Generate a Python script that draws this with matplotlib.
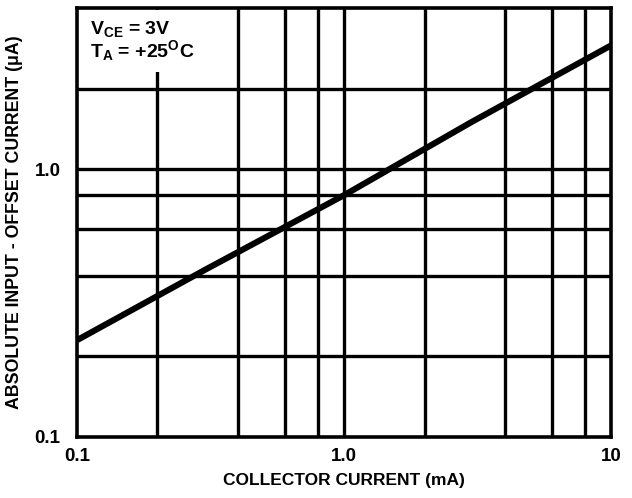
import matplotlib
matplotlib.use("Agg")
import matplotlib.pyplot as plt
import numpy as np

# curve
collector_current = [0.1, 0.3, 1.0, 3.0, 10.0]   # mA
offset_current = [0.23, 0.42, 0.80, 1.50, 2.90]  # uA

x_grid = [0.2, 0.4, 0.6, 0.8, 1.0, 2.0, 4.0, 6.0, 8.0]
y_grid = [0.2, 0.4, 0.6, 0.8, 1.0, 2.0]
x_ticks = [0.1, 1.0, 10]
x_ticklabels = ["0.1", "1.0", "10"]
y_ticks = [0.1, 1.0]
y_ticklabels = ["0.1", "1.0"]

plt.rcParams['font.family'] = ['Liberation Sans', 'DejaVu Sans']
plt.rcParams['font.weight'] = 'bold'
plt.rcParams['mathtext.fontset'] = 'custom'
plt.rcParams['mathtext.rm'] = 'Liberation Sans:bold'
plt.rcParams['mathtext.it'] = 'Liberation Sans:bold'
plt.rcParams['mathtext.bf'] = 'Liberation Sans:bold'

fig = plt.figure(figsize=(6.32, 4.98), dpi=100)
ax = fig.add_axes([0.122, 0.1225, 0.845, 0.8615])
ax.set_xscale('log')
ax.set_yscale('log')
ax.set_xlim(0.1, 10)
ax.set_ylim(0.1, 4.0)

#grid lines drawn by hand so only the chart's ones appear
for gx in x_grid:
    ax.axvline(gx, color='black', lw=2.4, zorder=1)
for gy in y_grid:
    ax.axhline(gy, color='black', lw=2.4, zorder=1)

ax.plot(collector_current, offset_current, color='black', lw=4.4,
        solid_capstyle='butt', zorder=3)

ax.minorticks_off()
ax.set_xticks(x_ticks)
ax.set_xticklabels(x_ticklabels, fontsize=13.5, fontweight='bold')
ax.set_yticks(y_ticks)
ax.set_yticklabels(y_ticklabels, fontsize=13.5, fontweight='bold')
ax.tick_params(which='both', length=0)
ax.tick_params(axis='x', pad=8)
ax.tick_params(axis='y', pad=12)
for sp in ax.spines.values():
    sp.set_linewidth(2.6)

ax.set_xlabel('COLLECTOR CURRENT (mA)', fontsize=12.5, fontweight='bold', labelpad=6)
ax.set_ylabel('ABSOLUTE INPUT - OFFSET CURRENT (\u03bcA)', fontsize=12.8,
              fontweight='bold', labelpad=8)

ax.text(0.024, 0.975, 'V$_{CE}$ = 3V\nT$_A$ = +25$^O$C', transform=ax.transAxes,
        ha='left', va='top', fontsize=14, fontweight='bold', linespacing=0.95,
        bbox=dict(facecolor='white', edgecolor='none', pad=7), zorder=4)

fig.savefig('out.png', dpi=100)
